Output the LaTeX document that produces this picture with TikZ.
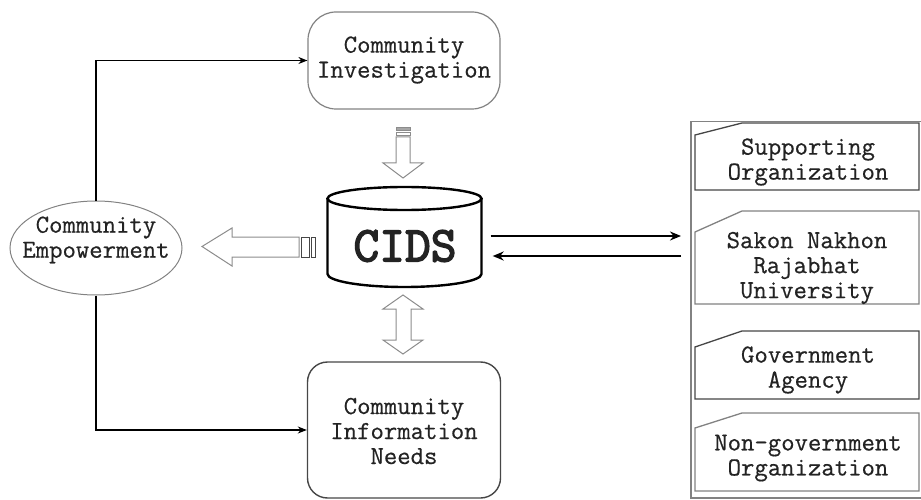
\documentclass[tikz,border=0pt]{standalone}
\usepackage{fontspec}
\newfontfamily\typefont{Latin Modern Mono}[FakeBold=0.5]
\newfontfamily\typeheavy{Latin Modern Mono}[FakeBold=3]
\usetikzlibrary{arrows.meta,shapes.geometric,calc}

\definecolor{ink}{RGB}{35,35,35}
\definecolor{edge}{RGB}{70,70,70}
\definecolor{soft}{RGB}{130,130,130}
\definecolor{hollow}{RGB}{140,140,140}

\tikzset{
  txt/.style={font=\typefont\fontsize{26}{25}\selectfont, align=center, text=ink, inner sep=0pt},
  link/.style={draw=black, line width=1.2pt, -{Stealth[length=9pt,width=7pt]}},
  flow/.style={draw=black, line width=2.4pt, -{Stealth[length=11pt,width=9pt]}},
  blockarrow/.style={draw=hollow, line width=1pt, fill=white},
  cardline/.style={draw=edge, line width=1.3pt, fill=white},
}

\begin{document}
\begin{tikzpicture}[x=1pt,y=-1pt]
\useasboundingbox (0,0) rectangle (921,500);

% --- left and top/bottom boxes ---
\node[draw=soft, line width=1pt, ellipse, minimum width=172, minimum height=94, inner sep=0pt]
  (emp) at (96,248) {};
\node[txt] (emptext) at (96,240) {Community\\Empowerment};

\node[draw=soft, line width=1.2pt, rounded corners=28pt, minimum width=192, minimum height=97, inner sep=0pt]
  (inv) at (404,60.5) {};
\node[txt] (invtext) at (404,60) {Community\\Investigation};

\node[draw=edge, line width=1.4pt, rounded corners=20pt, minimum width=193, minimum height=136, inner sep=0pt]
  (need) at (404,430) {};
\node[txt] (needtext) at (404,431) {Community\\Information\\Needs};

% --- central database cylinder ---
\node[minimum width=155, minimum height=100, inner sep=0pt,
      font=\typeheavy\fontsize{50}{50}\selectfont, text=ink]
  (cids) at (405,246) {CIDS};
\draw[line width=2.4pt]
  (327.5,198.5) -- (327.5,274) arc[start angle=180, end angle=0, x radius=77, y radius=13]
  -- (481.5,198.5);
\draw[line width=2.4pt] (404.5,198.5) ellipse[x radius=77, y radius=11.5];

% --- connectors from the empowerment ellipse ---
\draw[link] (emp.north) |- (inv.west);
\draw[link] (emp.south) |- (need.west);

% --- organisations column ---
\node[draw=soft, line width=1.5pt, minimum width=236, minimum height=376, inner sep=0pt, anchor=north west]
  (org) at (690,121) {};

\draw[cardline] (695,135) -- (742,123) -- (919,123) -- (919,190) -- (695,190) -- cycle;
\node[txt] (card1) at (808,162) {Supporting\\Organization};

\draw[cardline, draw=soft] (695,232) -- (742,211) -- (919,211) -- (919,304) -- (695,304) -- cycle;
\node[txt] (card2) at (807,268) {Sakon Nakhon\\Rajabhat\\University};

\draw[cardline] (695,347) -- (742,331) -- (919,331) -- (919,399) -- (695,399) -- cycle;
\node[txt] (card3) at (808,370) {Government\\Agency};

\draw[cardline, draw=soft] (695,428) -- (742,413) -- (919,413) -- (919,491) -- (695,491) -- cycle;
\node[txt] (card4) at (808,458) {Non-government\\Organization};

% --- data exchange with the organisations ---
\draw[flow, shorten >=9pt] ([shift={(8,-10)}]cids.east) -- ([yshift=10pt]cids.east -| org.west);
\draw[flow, shorten <=9pt] ([yshift=-10pt]cids.east -| org.west) -- ([shift={(10,10)}]cids.east);

% --- hollow block arrows ---
% downward arrow from investigation into the database
\draw[blockarrow] (396,137) -- (396,163) -- (383,163) -- (403,178) -- (423,163) -- (410,163) -- (410,137) -- cycle;
\draw[draw=hollow, fill=gray!70, line width=0.8pt] (396,127) rectangle (410,130);
\draw[draw=hollow, fill=white, line width=0.8pt] (396,132) rectangle (410,135.5);

% leftward arrow from the database to empowerment
\draw[blockarrow] (299,237) -- (232,237) -- (232,228) -- (202,246.5) -- (232,266) -- (232,257) -- (299,257) -- cycle;
\draw[draw=edge, fill=white, line width=0.9pt] (301,237) rectangle (309,257);
\draw[draw=edge, fill=white, line width=0.9pt] (311,237) rectangle (315.5,257);

% two-way arrow between the database and information needs
\draw[blockarrow] (403,295) -- (423,309) -- (411,309) -- (411,340) -- (423,340) -- (403,354)
  -- (383,340) -- (396,340) -- (396,309) -- (383,309) -- cycle;
\end{tikzpicture}
\end{document}
